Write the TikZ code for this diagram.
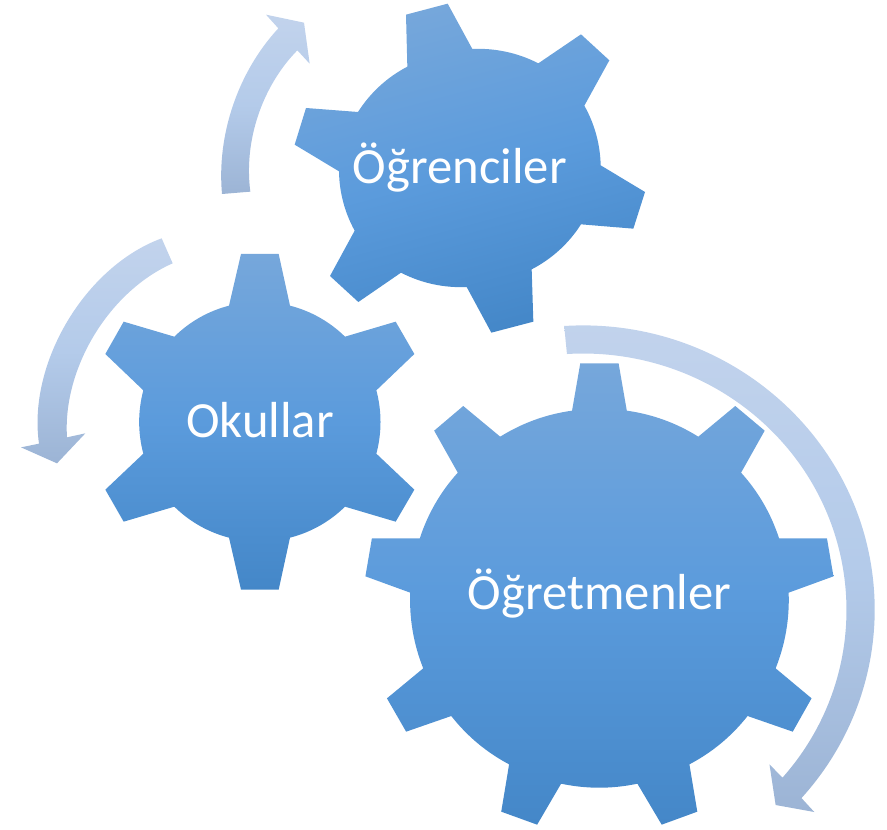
\documentclass[tikz,border=0pt]{standalone}
\usepackage{fontspec}
\setmainfont{Carlito}
\definecolor{gearT}{HTML}{76A7DB}
\definecolor{gearM}{HTML}{5B9BDC}
\definecolor{gearB}{HTML}{4487C8}
\definecolor{arrT}{HTML}{C2D3EC}
\definecolor{arrM}{HTML}{B4CBEA}
\definecolor{arrB}{HTML}{9CB4D5}
\tikzset{
  gearshape/.style={top color=gearT,bottom color=gearB,middle color=gearM,draw=none},
  arrowshape/.style={top color=arrT,bottom color=arrB,middle color=arrM,draw=none},
  arcb/.style={bend left=#1,looseness=.87},
  arcr/.style={bend right=#1,looseness=.87},
  gearlabel/.style={text=white,font=\fontsize{38pt}{40pt}\selectfont,anchor=base,inner sep=0pt},
}
\begin{document}
\begin{tikzpicture}[x=.75pt,y=-.75pt]
\useasboundingbox (0,0) rectangle (887,830);
% arrows
\begin{scope}[shift={(200,0)},x=.25pt,y=-.25pt]
\shade[arrowshape] (66,582) to[arcb=24] (235,85) -- (198,44) -- (312,68) -- (329,191) -- (292,151) to[arcr=26] (151,575) -- cycle;
\end{scope}
\begin{scope}[shift={(0,230)},x=.25pt,y=-.25pt]
\shade[arrowshape] (485,25) -- (518,100) to[arcr=35] (201,622) -- (256,610) -- (171,700) -- (63,652) -- (117,641) to[arcb=39] cycle;
\end{scope}
\begin{scope}[shift={(350,310)},x=.2566pt,y=-.25pt]
\shade[arrowshape] (626,48) arc[start angle=-93.67,end angle=41.48,radius=853] -- (1357,1506) -- (1244,1485) -- (1226,1363) -- (1264,1403) arc[start angle=40.8,end angle=-93.53,radius=769.6] -- cycle;
\end{scope}
% gear: Ogrenciler
\begin{scope}[shift={(280,0)},x=.25pt,y=-.25pt]
\shade[gearshape,shading angle=15]
 (382,200) -- (378,44) -- (503,11) -- (577,147) to[arcb=15]
 (775,190) -- (903,103) -- (988,181) -- (913,317) to[arcb=14]
 (962,496) -- (1095,576) -- (1060,686) -- (903,673) to[arcb=15]
 (755,808) -- (760,965) -- (634,998) -- (560,861) to[arcb=15]
 (363,818) -- (235,906) -- (150,828) -- (224,692) to[arcb=14]
 (177,514) -- (44,434) -- (78,324) -- (234,336) to[arcb=15] (382,200) -- cycle;
\end{scope}
% gear: Okullar
\begin{scope}[shift={(0,230)},x=.25pt,y=-.25pt]
\shade[gearshape]
 (687,227) -- (723,72) -- (836,72) -- (870,227) to[arcb=15]
 (1035,320) -- (1187,275) -- (1243,372) -- (1129,481) to[arcb=15]
 (1129,671) -- (1243,779) -- (1187,875) -- (1035,830) to[arcb=15]
 (870,923) -- (836,1079) -- (723,1079) -- (687,923) to[arcb=15]
 (523,830) -- (371,875) -- (316,779) -- (430,671) to[arcb=15]
 (430,481) -- (316,372) -- (371,275) -- (523,320) to[arcb=15] (687,227) -- cycle;
\end{scope}
% gear: Ogretmenler
\begin{scope}[shift={(350,310)},x=.2566pt,y=-.25pt]
\shade[gearshape]
 (649,302) -- (673,160) -- (785,160) -- (809,302) to[arcb=12]
 (1018,380) -- (1126,288) -- (1212,362) -- (1143,488) to[arcb=12]
 (1254,685) -- (1394,685) -- (1413,799) -- (1282,848) to[arcb=12]
 (1244,1075) -- (1349,1165) -- (1294,1265) -- (1162,1218) to[arcb=12]
 (992,1363) -- (1015,1505) -- (911,1544) -- (840,1421) to[arcb=12]
 (617,1421) -- (547,1544) -- (442,1505) -- (465,1363) to[arcb=12]
 (296,1218) -- (164,1265) -- (108,1165) -- (214,1075) to[arcb=12]
 (176,848) -- (45,799) -- (64,685) -- (204,685) to[arcb=12]
 (315,488) -- (246,362) -- (331,288) -- (439,380) to[arcb=12] (649,302) -- cycle;
\end{scope}
% labels
\node[gearlabel] (ogrenciler) at (459.8,184) {Öğrenciler};
\node[gearlabel] (okullar) at (260,437.5) {Okullar};
\node[gearlabel] (ogretmenler) at (599.5,609.5) {Öğretmenler};
\end{tikzpicture}
\end{document}
